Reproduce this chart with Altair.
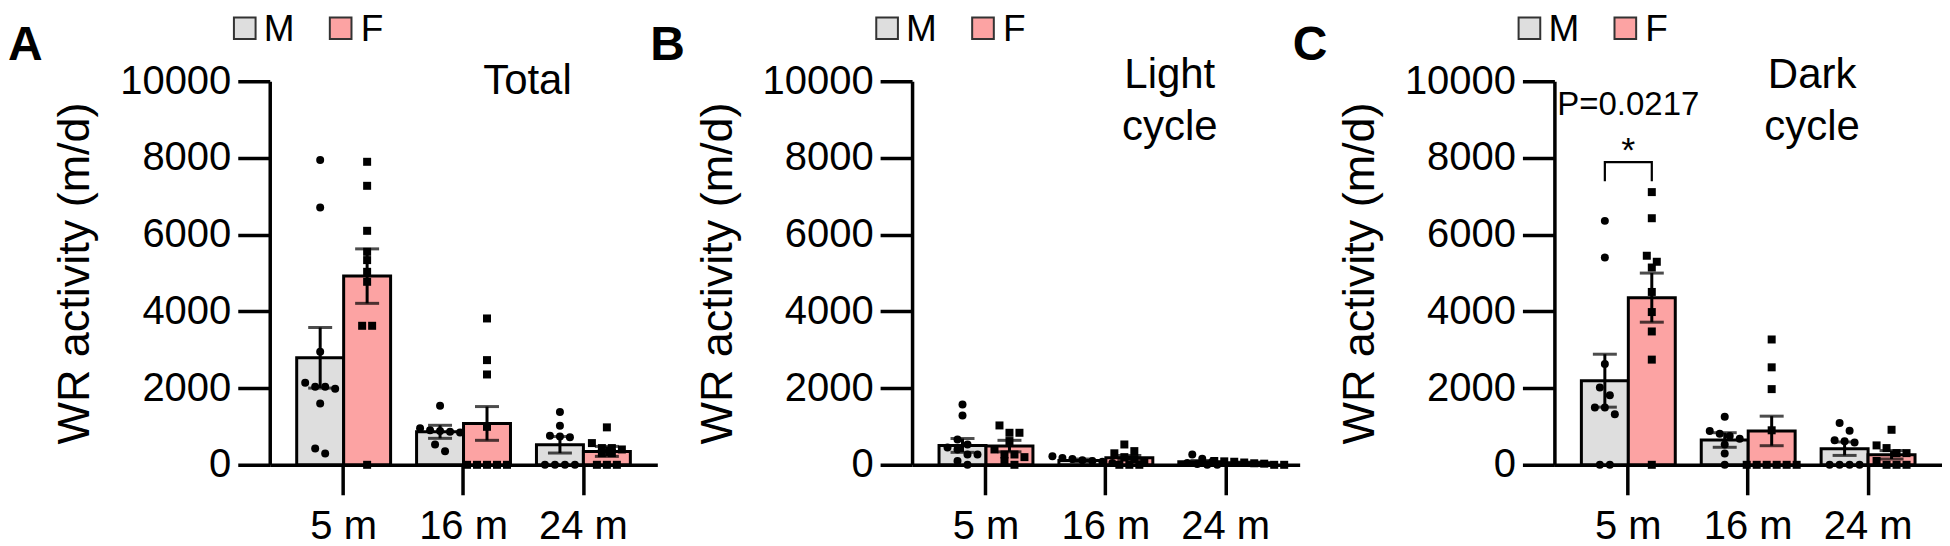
import altair as alt
import pandas as pd

AGES = ["5 m", "16 m", "24 m"]
SEXES = ["M", "F"]
Y_TICKS = [0, 2000, 4000, 6000, 8000, 10000]
FILL_COLORS = ["#DEDEDE", "#FCA3A3"]

# ---- Panel A: Total ----
A_M_MEAN = [2790, 860, 522]
A_M_SEM = [790, 170, 215]
A_F_MEAN = [4919, 1078, 350]
A_F_SEM = [710, 440, 130]
A_M_PTS = [[7943, 6708, 2946, 2138, 2033, 2033, 1980, 1598, 425, 295],
           [1538, 950, 900, 880, 860, 840, 530, 356],
           [1375, 1018, 760, 741, 720, 0, 0, 0, 0]]
A_F_PTS = [[7899, 7273, 6100, 5553, 5336, 5031, 4771, 3624, 3624, 0],
           [3815, 2729, 2355, 990, 0, 0, 0, 0, 0],
           [976, 566, 436, 436, 400, 305, 305, 0, 0, 0]]

# ---- Panel B: Light cycle ----
B_M_MEAN = [505, 115, 78]
B_M_SEM = [180, 35, 35]
B_F_MEAN = [488, 183, 55]
B_F_SEM = [150, 60, 15]
B_M_PTS = [[1573, 1287, 660, 530, 450, 400, 269, 269, 100, 0],
           [220, 180, 150, 120, 100, 80, 50],
           [270, 157, 80, 50, 20, 0, 0]]
B_F_PTS = [[1026, 835, 835, 619, 400, 269, 269, 200, 100, 0],
           [530, 357, 300, 200, 150, 100, 0, 0, 0],
           [100, 90, 80, 60, 40, 30, 0, 0]]

# ---- Panel C: Dark cycle ----
C_M_MEAN = [2193, 647, 420]
C_M_SEM = [690, 190, 175]
C_F_MEAN = [4358, 883, 261]
C_F_SEM = [640, 385, 110]
C_M_PTS = [[6359, 5405, 2628, 2017, 1816, 1493, 1493, 1318, 0, 0],
           [1250, 883, 812, 750, 681, 532, 296, 0],
           [1088, 887, 640, 611, 580, 0, 0, 0, 0]]
C_F_PTS = [[7109, 6428, 5450, 5293, 5143, 4506, 3982, 3476, 2742, 0],
           [3267, 2541, 1973, 900, 0, 0, 0, 0, 0, 0],
           [913, 506, 436, 305, 305, 100, 0, 0, 0]]

# significance annotation (panel C, 5 m)
P_TEXT = "P=0.0217"
P_Y = 9380
STAR_Y = 8170
BRACKET_TOP = 7890
BRACKET_LEG = 7390

W, H = 388, 384
BAND = 94.0

x_scale = alt.Scale(domain=AGES, paddingInner=0.2167, paddingOuter=0.225)
y_scale = alt.Scale(domain=[0, 10000], nice=False, zero=True)
x_axis = alt.Axis(title=None, labelAngle=0, tickSize=30, labelPadding=12,
                  labelFontSize=40, domainWidth=3.5, tickWidth=3.5)
y_axis = alt.Axis(title="WR activity (m/d)", values=Y_TICKS, format="d",
                  tickSize=32, labelPadding=7, labelFontSize=40,
                  labelFlush=False, labelOverlap=False,
                  titleFontSize=45, titleFontWeight="normal",
                  titlePadding=22, domainWidth=3.5, tickWidth=3.5)
off_nom = alt.XOffset("sex:N", sort=SEXES,
                      scale=alt.Scale(domain=SEXES, paddingInner=0, paddingOuter=0))
off_q = alt.XOffset("pos:Q", scale=alt.Scale(domain=[-1, 1], range=[0, BAND]))
X = alt.X("age:N", sort=AGES, scale=x_scale, axis=x_axis)

THR = 210      # values closer than this share a row
STEP = 10 * 2 / BAND


def spread(vals, center):
    order = sorted(range(len(vals)), key=lambda i: -vals[i])
    clusters = []
    for i in order:
        if clusters and abs(vals[clusters[-1][0]] - vals[i]) < THR:
            clusters[-1].append(i)
        else:
            clusters.append([i])
    pos = [0.0] * len(vals)
    for c in clusters:
        k = len(c)
        for j, i in enumerate(c):
            pos[i] = center + (j - (k - 1) / 2) * STEP
    return pos


def one():
    return pd.DataFrame({"k": [0]})


def make_panel(letter, mm, sm, mf, sf, pm, pf, lines, sig=False):
    rows = []
    for i, a in enumerate(AGES):
        rows.append({"age": a, "sex": "M", "mean": mm[i], "lo": mm[i] - sm[i], "hi": mm[i] + sm[i]})
        rows.append({"age": a, "sex": "F", "mean": mf[i], "lo": mf[i] - sf[i], "hi": mf[i] + sf[i]})
    summ = pd.DataFrame(rows)

    prow = []
    for i, a in enumerate(AGES):
        for sex, pts, c in (("M", pm[i], -0.5), ("F", pf[i], 0.5)):
            for v, p in zip(pts, spread(pts, c)):
                prow.append({"age": a, "sex": sex, "value": v, "pos": p})
    pts = pd.DataFrame(prow)

    Y = alt.Y("mean:Q", scale=y_scale, axis=y_axis)

    bars = alt.Chart(summ).mark_bar(stroke="black", strokeWidth=3).encode(
        x=X, xOffset=off_nom, y=Y,
        fill=alt.Fill("sex:N", scale=alt.Scale(domain=SEXES, range=FILL_COLORS), legend=None))
    dots = alt.Chart(pts).mark_point(filled=True, opacity=1, color="black", size=64).encode(
        x=X, xOffset=off_q, y=alt.Y("value:Q", scale=y_scale, axis=y_axis),
        shape=alt.Shape("sex:N", scale=alt.Scale(domain=SEXES, range=["circle", "square"]), legend=None))
    err = alt.Chart(summ).mark_rule(color="black", strokeWidth=3).encode(
        x=X, xOffset=off_nom, y=alt.Y("lo:Q", scale=y_scale, axis=y_axis), y2="hi:Q")
    cap_hi = alt.Chart(summ).mark_tick(color="black", orient="horizontal", size=24, thickness=3).encode(
        x=X, xOffset=off_nom, y=alt.Y("hi:Q", scale=y_scale, axis=y_axis))
    cap_lo = alt.Chart(summ).mark_tick(color="black", orient="horizontal", size=24, thickness=3).encode(
        x=X, xOffset=off_nom, y=alt.Y("lo:Q", scale=y_scale, axis=y_axis))

    layers = [bars, dots, err, cap_hi, cap_lo]

    # panel letter
    layers.append(alt.Chart(one()).mark_text(text=letter, fontSize=48, fontWeight="bold",
                                             align="left", baseline="alphabetic", color="black")
                  .encode(x=alt.value(-262), y=alt.value(-21)))
    # legend
    layers.append(alt.Chart(one()).mark_square(size=470, fill=FILL_COLORS[0], stroke="#333",
                                               strokeWidth=2, opacity=1)
                  .encode(x=alt.value(-25), y=alt.value(-53)))
    layers.append(alt.Chart(one()).mark_text(text="M", fontSize=37, align="left", baseline="middle",
                                             color="black")
                  .encode(x=alt.value(-6), y=alt.value(-51)))
    layers.append(alt.Chart(one()).mark_square(size=470, fill=FILL_COLORS[1], stroke="#333",
                                               strokeWidth=2, opacity=1)
                  .encode(x=alt.value(71), y=alt.value(-53)))
    layers.append(alt.Chart(one()).mark_text(text="F", fontSize=37, align="left", baseline="middle",
                                             color="black")
                  .encode(x=alt.value(91), y=alt.value(-51)))
    # condition label
    ys = [13] if len(lines) == 1 else [7, 59]
    for t, yy in zip(lines, ys):
        layers.append(alt.Chart(one()).mark_text(text=t, fontSize=42, align="center",
                                                 baseline="alphabetic", color="black")
                      .encode(x=alt.value(258), y=alt.value(yy)))

    if sig:
        ann = pd.DataFrame({"age": ["5 m"], "ty": [P_Y], "sy": [STAR_Y]})
        layers.append(alt.Chart(ann).mark_text(text=P_TEXT, fontSize=33, baseline="middle", color="black")
                      .encode(x=X, y=alt.Y("ty:Q", scale=y_scale, axis=y_axis)))
        layers.append(alt.Chart(ann).mark_text(text="*", fontSize=36, baseline="middle", color="black")
                      .encode(x=X, y=alt.Y("sy:Q", scale=y_scale, axis=y_axis)))
        br = pd.DataFrame({"age": ["5 m"] * 4, "pos": [-0.5, -0.5, 0.5, 0.5],
                           "value": [BRACKET_LEG, BRACKET_TOP, BRACKET_TOP, BRACKET_LEG],
                           "o": [0, 1, 2, 3]})
        layers.append(alt.Chart(br).mark_line(color="black", strokeWidth=2.2).encode(
            x=X, xOffset=off_q, y=alt.Y("value:Q", scale=y_scale, axis=y_axis), order="o:Q"))

    return alt.layer(*layers).resolve_scale(xOffset="independent").properties(width=W, height=H)


pA = make_panel("A", A_M_MEAN, A_M_SEM, A_F_MEAN, A_F_SEM, A_M_PTS, A_F_PTS, ["Total"])
pB = make_panel("B", B_M_MEAN, B_M_SEM, B_F_MEAN, B_F_SEM, B_M_PTS, B_F_PTS, ["Light", "cycle"])
pC = make_panel("C", C_M_MEAN, C_M_SEM, C_F_MEAN, C_F_SEM, C_M_PTS, C_F_PTS, ["Dark", "cycle"], sig=True)

chart = alt.hconcat(pA, pB, pC, spacing=255, bounds="flush").properties(
    padding={"left": 0, "top": 3, "right": 0, "bottom": 0}
).configure(font="Liberation Sans").configure_view(stroke=None).configure_axis(
    grid=False, labelColor="black", titleColor="black", domainColor="black", tickColor="black",
    labelFont="Liberation Sans", titleFont="Liberation Sans")

chart.save("out.html", embed_options={"renderer": "svg", "actions": False})
